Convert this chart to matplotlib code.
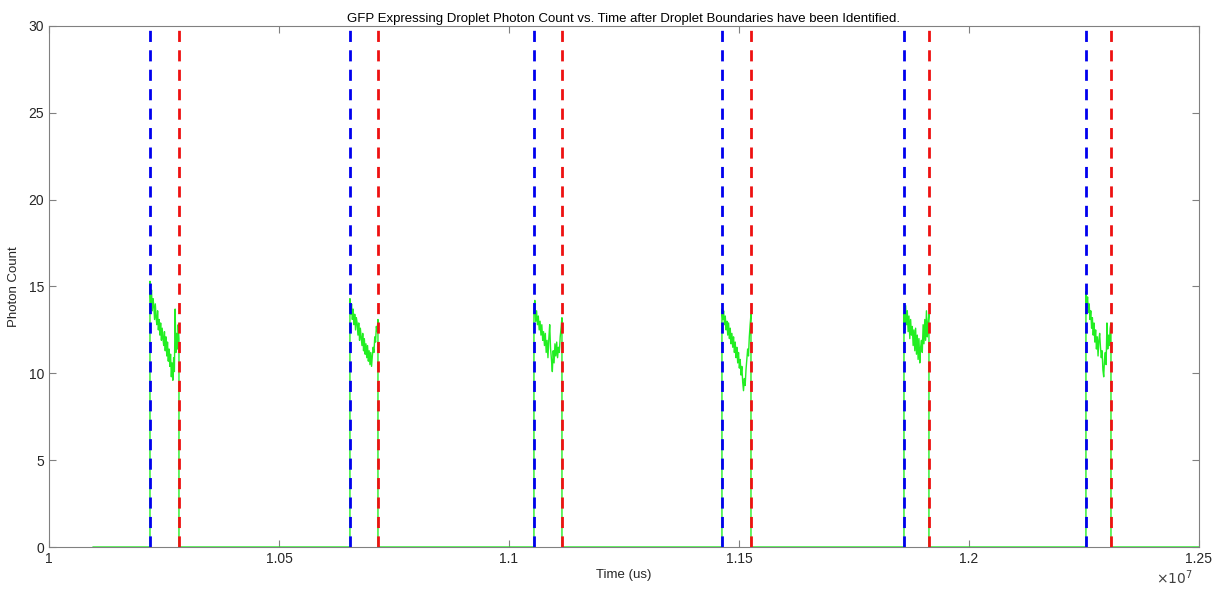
import numpy as np
import matplotlib
matplotlib.use('Agg')
from matplotlib import pyplot as plt
from matplotlib.ticker import FuncFormatter

matplotlib.rcParams.update({'font.family': 'Liberation Sans', 'font.size': 9.5})

# droplet boundaries (us)
t_start = 1.0096e7
t_end = 1.25e7
blue_bounds = [1.02196e7, 1.06543e7, 1.10543e7, 1.14630e7, 1.18587e7, 1.22543e7]
red_bounds = [1.02826e7, 1.07152e7, 1.11152e7, 1.15261e7, 1.19130e7, 1.23087e7]

# photon counts inside each droplet
d1 = [15.3, 14.0, 14.8, 13.6, 14.3, 13.9, 13.1, 14.0, 13.2, 12.8, 13.6, 12.5, 13.1,
      12.2, 12.9, 11.9, 12.6, 12.0, 11.6, 12.4, 11.3, 12.1, 11.0, 11.8, 10.7, 11.4,
      10.4, 11.1, 9.8, 10.6, 9.6, 10.9, 10.1, 13.7, 11.2, 12.3, 11.4, 12.8, 12.0]
d2 = [14.3, 13.4, 14.0, 13.1, 13.7, 12.8, 13.4, 12.5, 13.2, 12.9, 12.2, 12.9, 11.9,
      12.6, 12.1, 11.6, 12.3, 11.3, 12.0, 11.1, 11.7, 10.9, 11.6, 10.7, 11.3, 10.5,
      11.2, 10.4, 11.0, 11.5, 11.2, 12.1, 11.8, 12.7, 12.4, 13.1]
d3 = [13.6, 14.2, 13.0, 13.6, 12.8, 13.3, 12.5, 13.0, 12.2, 12.8, 11.9, 12.4, 11.6,
      12.3, 11.2, 11.9, 10.9, 12.0, 12.8, 11.4, 10.8, 10.1, 11.3, 10.6, 11.7, 11.0,
      11.8, 10.9, 11.5, 11.2, 12.1, 12.6, 13.2]
d4 = [13.7, 13.1, 13.6, 12.8, 13.3, 12.5, 13.0, 12.2, 12.9, 12.0, 12.6, 11.7, 12.3,
      11.5, 12.1, 11.2, 11.8, 10.9, 11.5, 10.6, 11.2, 10.3, 10.8, 9.9, 10.4, 9.5,
      9.0, 9.7, 9.3, 10.2, 10.8, 11.4, 11.0, 12.1, 12.8, 13.4]
d5 = [13.4, 12.5, 13.9, 12.8, 13.6, 12.4, 13.3, 12.0, 13.1, 12.2, 12.7, 11.6, 12.5,
      11.3, 12.6, 11.1, 12.2, 10.8, 12.0, 10.6, 11.5, 11.9, 11.2, 12.8, 11.7, 13.1,
      11.9, 13.6, 12.1, 12.9, 13.4]
d6 = [14.7, 13.8, 14.4, 13.5, 14.0, 13.1, 13.6, 12.6, 13.2, 12.2, 12.9, 11.8, 12.5,
      11.4, 12.1, 11.0, 11.9, 12.3, 11.5, 10.9, 11.3, 10.2, 9.8, 10.8, 11.2, 10.5,
      12.9, 11.4, 12.2, 11.6, 12.6, 12.9]
droplets = [d1, d2, d3, d4, d5, d6]

# assemble the full trace
t = [t_start]
y = [0]
for b, r, d in zip(blue_bounds, red_bounds, droplets):
    t += [b] + list(np.linspace(b, r, len(d))) + [r]
    y += [0] + d + [0]
t.append(t_end)
y.append(0)

fig = plt.figure(figsize=(12.15, 5.89), dpi=100)
ax = fig.add_axes([0.0403, 0.0713, 0.9465, 0.8846])

ax.plot(t, y, color='#22ee22', lw=1.0, zorder=2)
for b in blue_bounds:
    ax.axvline(b, color='#0000ee', ls=(0, (4, 3)), lw=2.0, zorder=3)
for r in red_bounds:
    ax.axvline(r, color='#ee1111', ls=(0, (4, 3)), lw=2.0, zorder=3)

ax.set_xlim(1e7, 1.25e7)
ax.set_ylim(0, 30)
ax.set_xticks(np.arange(1.0e7, 1.2501e7, 0.05e7))
ax.set_yticks(np.arange(0, 31, 5))
ax.xaxis.set_major_formatter(FuncFormatter(lambda v, p: '%g' % round(v / 1e7, 2)))
ax.tick_params(direction='in', top=True, right=True, colors='#808080',
               labelcolor='#262626', length=5, width=0.8, labelsize=10)
for s in ax.spines.values():
    s.set_color('#808080')
    s.set_linewidth(0.8)

ax.text(0.995, -0.042, r'$\times10^7$', transform=ax.transAxes, ha='right', va='top',
        color='#404040', fontsize=10)
ax.set_xlabel('Time (us)', color='#262626', labelpad=2)
ax.set_ylabel('Photon Count', color='#262626', labelpad=6)
ax.set_title('GFP Expressing Droplet Photon Count vs. Time after Droplet Boundaries have been Identified.',
             fontsize=9.5, color='black', pad=3)

plt.savefig('out.png')
